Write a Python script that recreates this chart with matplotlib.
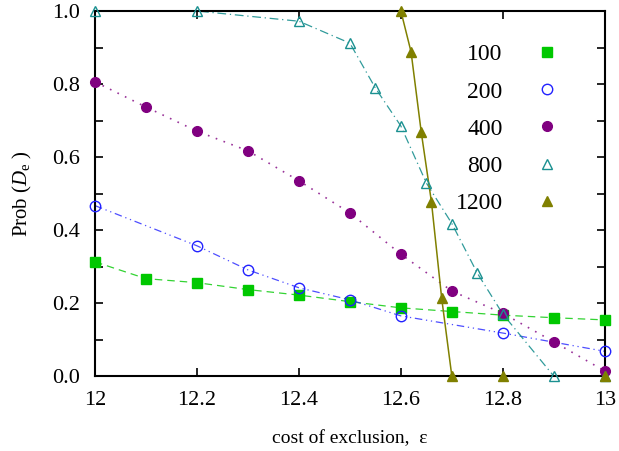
import matplotlib
matplotlib.use("Agg")
import matplotlib.pyplot as plt
from matplotlib.lines import Line2D

plt.rcParams['font.family'] = ['Liberation Serif', 'DejaVu Serif']
plt.rcParams['mathtext.fontset'] = 'custom'
plt.rcParams['mathtext.rm'] = 'Liberation Serif'
plt.rcParams['mathtext.it'] = 'Liberation Serif:italic'

# data
x_100 = [12.0, 12.1, 12.2, 12.3, 12.4, 12.5, 12.6, 12.7, 12.8, 12.9, 13.0]
y_100 = [0.313, 0.267, 0.256, 0.237, 0.222, 0.204, 0.187, 0.177, 0.167, 0.160, 0.154]

x_200 = [12.0, 12.2, 12.3, 12.4, 12.5, 12.6, 12.8, 13.0]
y_200 = [0.467, 0.357, 0.291, 0.242, 0.209, 0.165, 0.118, 0.068]

x_400 = [12.0, 12.1, 12.2, 12.3, 12.4, 12.5, 12.6, 12.7, 12.8, 12.9, 13.0]
y_400 = [0.806, 0.737, 0.671, 0.617, 0.535, 0.447, 0.334, 0.233, 0.172, 0.094, 0.014]

x_800 = [12.0, 12.2, 12.4, 12.5, 12.55, 12.6, 12.65, 12.7, 12.75, 12.8, 12.9, 13.0]
y_800 = [1.0, 1.0, 0.972, 0.912, 0.789, 0.685, 0.529, 0.418, 0.282, 0.170, 0.0, 0.0]

x_1200 = [12.6, 12.62, 12.64, 12.66, 12.68, 12.7, 12.8, 13.0]
y_1200 = [1.0, 0.888, 0.668, 0.477, 0.214, 0.0, 0.0, 0.0]

labels = ['100', '200', '400', '800', '1200']

fig = plt.figure(figsize=(6.19, 4.51), dpi=100)
ax = fig.add_axes([0.1535, 0.166, 0.8235, 0.8096])

c100 = '#00c800'
c200 = '#2222ff'
c400 = '#800080'
c800 = '#1a9090'
c1200 = '#808000'

ax.plot(x_100, y_100, color=c100, ls=(0, (6, 4)), lw=0.9, alpha=0.8)
ax.plot(x_100, y_100, 's', color=c100, ms=7, clip_on=False, zorder=4)

ax.plot(x_200, y_200, color=c200, ls=(0, (6, 3, 1, 3, 1, 3)), lw=0.9, alpha=0.8)
ax.plot(x_200, y_200, 'o', mfc='none', mec=c200, mew=1.0, ms=7.5, clip_on=False, zorder=4)

ax.plot(x_400, y_400, color=c400, ls=(0, (1, 4)), lw=1.2, alpha=0.8)
ax.plot(x_400, y_400, 'o', color=c400, ms=7, clip_on=False, zorder=4)

ax.plot(x_800, y_800, color=c800, ls=(0, (7, 3, 1, 3)), lw=0.9, alpha=0.9)
ax.plot(x_800, y_800, '^', mfc='none', mec=c800, mew=1.0, ms=7.5, clip_on=False, zorder=4)

ax.plot(x_1200, y_1200, color=c1200, ls='-', lw=1.1)
ax.plot(x_1200, y_1200, '^', color=c1200, ms=6.5, clip_on=False, zorder=4)

handles = [
    Line2D([], [], ls='none', marker='s', color=c100, ms=7),
    Line2D([], [], ls='none', marker='o', mfc='none', mec=c200, mew=1.0, ms=7.5),
    Line2D([], [], ls='none', marker='o', color=c400, ms=7),
    Line2D([], [], ls='none', marker='^', mfc='none', mec=c800, mew=1.0, ms=7.5),
    Line2D([], [], ls='none', marker='^', color=c1200, ms=6.5),
]
leg = ax.legend(handles, labels, loc='upper right', bbox_to_anchor=(0.951, 0.968),
                frameon=False, markerfirst=False, fontsize=17, labelspacing=0.66,
                handletextpad=1.37, handlelength=1.0)
for t in leg.get_texts():
    t.set_ha('right')

ax.set_xlim(12, 13)
ax.set_ylim(0, 1)
ax.set_xticks([12, 12.2, 12.4, 12.6, 12.8, 13])
ax.set_xticklabels(['12', '12.2', '12.4', '12.6', '12.8', '13'])
yt = [i / 10 for i in range(11)]
ax.set_yticks(yt)
ax.set_yticklabels(['%.1f' % v if i % 2 == 0 else '' for i, v in enumerate(yt)])
ax.tick_params(direction='in', top=True, right=True, length=6, width=1.2,
               labelsize=16)
ax.tick_params(axis='x', pad=11)
ax.tick_params(axis='y', pad=11)
for s in ax.spines.values():
    s.set_linewidth(1.5)

ax.set_xlabel('cost of exclusion,  ε', fontsize=14, labelpad=14)
ax.set_ylabel(r'Prob ($D_{\rm e}$ )', fontsize=15, labelpad=13)

fig.savefig('out.png', dpi=100)
